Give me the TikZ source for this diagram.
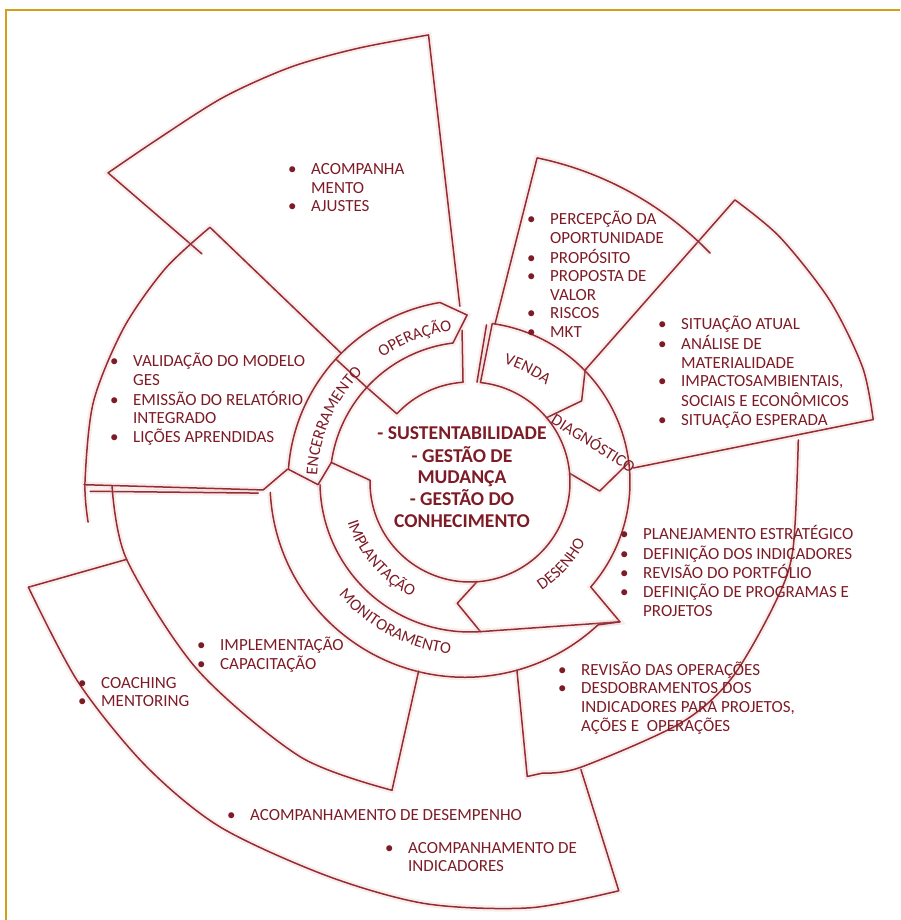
\documentclass[tikz,border=0pt]{standalone}
\usepackage{fontspec}
\setmainfont{Carlito}
\usetikzlibrary{decorations.text}

\definecolor{inkred}{RGB}{125,28,38}
\definecolor{penred}{RGB}{150,44,50}
\definecolor{blush}{RGB}{215,165,165}
\definecolor{framegold}{RGB}{212,160,23}

\newcommand{\bu}{\makebox[23pt][l]{•}}
\newcommand{\nb}{\hspace*{23pt}}
\newcommand{\ringfont}{\fontsize{16.5}{16.5}\selectfont}

\begin{document}
\begin{tikzpicture}[x=1pt, y=1pt]

    \tikzset{%
    sketch/.style={
        draw=penred,
        line width=1.5pt,
        line join=round,
        line cap=round,
        preaction={draw=blush, line width=6pt, opacity=0.2}
        },
    item list/.style={
        anchor=base west,
        inner sep=0pt,
        text=inkred,
        font=\fontsize{17}{18.5}\selectfont
        },
    core text/.style={
        anchor=base,
        inner sep=0pt,
        text=inkred,
        font=\bfseries\fontsize{19.6}{21.25}\selectfont
        },
    ring label/.style={
        decorate,
        decoration={text along path, text align=center, text={#1}}
        },
    }

    % Picture size and frame
    \useasboundingbox (-470,-438) rectangle (430,482);
    \draw [framegold, line width=2pt] (-464,-438) -- (-464,472) -- (430,472);

    % Inner ring: stub under OPERACAO, VENDA, DIAGNOSTICO, DESENHO, IMPLANTACAO
    \draw [sketch] (137.5:140) -- (137:100) arc[start angle=137, end angle=94, radius=100] -- (93:152);
    \draw [sketch] (84:100) -- (82:160) arc[start angle=82, end angle=44, radius=160]
        -- (36:138) -- (40:100) arc[start angle=40, end angle=84, radius=100] -- cycle;
    \draw [sketch] (86:100) -- (84:158);
    \draw [sketch] (44:160) arc[start angle=44, end angle=7, radius=160]
        -- (-4:130) -- (5:100) arc[start angle=5, end angle=40, radius=100];
    \draw [sketch] (5:100) arc[start angle=5, end angle=-86, radius=100]
        -- (-96:122) -- (-86:150) -- (-43:205) -- (-41:160) arc[start angle=-41, end angle=7, radius=160];
    \draw [sketch] (179:100) arc[start angle=179, end angle=274, radius=100];
    \draw [sketch] (181:150) arc[start angle=181, end angle=274, radius=150];

    % Outer ring: ENCERRAMENTO, OPERACAO, MONITORAMENTO
    \draw [sketch] (137.5:182) arc[start angle=137.5, end angle=176, radius=182]
        -- (181:152) -- (172:140) arc[start angle=172, end angle=137.5, radius=140] -- cycle;
    \draw [sketch] (172:140) -- (179:100);
    \draw [sketch] (137.5:182) arc[start angle=137.5, end angle=99.5, radius=182]
        -- (91:167) -- (97:140) arc[start angle=97, end angle=137.5, radius=140];
    \draw [sketch] (183:200) arc[start angle=183, end angle=313, radius=195] -- (-43:205);

    % Outer sectors
    \draw [sketch] (93.3:176) -- plot[smooth] coordinates {(95.3:449) (104.6:448) (113.4:452) (122.7:457) (132.5:464) (139.5:476)} -- (139.6:352);
    \draw [sketch] (135:182) -- plot[smooth] coordinates {(135.6:364) (145:372) (156:379) (168:385) (180:385) (186:384)};
    \draw [sketch] (180.4:386) -- (182.2:207) -- (176:183);
    \draw [sketch] (181.4:380) -- (183:212);
    \draw [sketch] plot[smooth] coordinates {(180.6:358) (192.7:352) (214.5:331) (238.3:323) (255.8:318)} -- (254.8:196);
    \draw [sketch] (193.4:454) -- (192.7:352);
    \draw [sketch] plot[smooth] coordinates {(193.4:454) (207:440) (221:431) (234:426) (250:419) (264:424) (278:430) (290:435)} -- (291.1:308);
    \draw [sketch] (284:194) -- (281:300) -- plot[smooth] coordinates {(284:300) (291.1:306) (311:320) (323:327) (338:328) (348:330) (367.3:331)};
    \draw [sketch] (4.9:164) -- (8.8:408);
    \draw [sketch] (44.2:160) -- plot[smooth] coordinates {(46.8:387) (38.3:395) (26.8:403) (16.3:409) (8.8:408)};
    \draw [sketch] (81:160) -- (78.3:331) arc[start angle=78.3, end angle=44, radius=335];

    % Ring labels
    \path [ring label={|\ringfont\color{inkred}|OPERAÇÃO}] (131:152) arc[start angle=131, end angle=91, radius=152];
    \path [ring label={|\ringfont\color{inkred}|ENCERRAMENTO}] (186:153) arc[start angle=186, end angle=126, radius=153];
    \path [ring label={|\ringfont\color{inkred}|VENDA}] (83:123) arc[start angle=83, end angle=43, radius=123];
    \path [ring label={|\ringfont\color{inkred}|DESENHO}] (-67:130) arc[start angle=-67, end angle=-17, radius=130];
    \path [ring label={|\ringfont\color{inkred}|IMPLANTAÇÃO}] (190.7:129) arc[start angle=190.7, end angle=250.7, radius=129];
    \path [ring label={|\ringfont\color{inkred}|MONITORAMENTO}] (212:173) arc[start angle=212, end angle=272, radius=173];
    \node [text=inkred, font=\ringfont, rotate=-32, inner sep=0pt] (diag) at (124,40) {DIAGNÓSTICO};

    % Centre text
    \node [core text] (core) at (-8,42) {\begin{tabular}[t]{@{}c@{}}- SUSTENTABILIDADE\\- GESTÃO DE\\MUDANÇA\\- GESTÃO DO\\CONHECIMENTO\end{tabular}};

    % Bullet lists of the sectors
    \node [item list] (operacao) at (-182,307) {\begin{tabular}[t]{@{}l@{}}\bu ACOMPANHA\\\nb MENTO\\\bu AJUSTES\end{tabular}};
    \node [item list] (venda) at (57,257) {\begin{tabular}[t]{@{}l@{}}\bu PERCEPÇÃO DA\\\nb OPORTUNIDADE\\\bu PROPÓSITO\\\bu PROPOSTA DE\\\nb VALOR\\\bu RISCOS\\\bu MKT\end{tabular}};
    \node [item list] (diagnostico) at (188,152) {\begin{tabular}[t]{@{}l@{}}\bu SITUAÇÃO ATUAL\\\bu ANÁLISE DE\\\nb MATERIALIDADE\\\bu IMPACTOSAMBIENTAIS,\\\nb SOCIAIS E ECONÔMICOS\\\bu SITUAÇÃO ESPERADA\end{tabular}};
    \node [item list] (encerramento) at (-360,115) {\begin{tabular}[t]{@{}l@{}}\bu VALIDAÇÃO DO MODELO\\\nb GES\\\bu EMISSÃO DO RELATÓRIO\\\nb INTEGRADO\\\bu LIÇÕES APRENDIDAS\end{tabular}};
    \node [item list] (desenho) at (150,-58) {\begin{tabular}[t]{@{}l@{}}\bu PLANEJAMENTO ESTRATÉGICO\\\bu DEFINIÇÃO DOS INDICADORES\\\bu REVISÃO DO PORTFÓLIO\\\bu DEFINIÇÃO DE PROGRAMAS E\\\nb PROJETOS\end{tabular}};
    \node [item list] (revisao) at (88,-193) {\begin{tabular}[t]{@{}l@{}}\bu REVISÃO DAS OPERAÇÕES\\\bu DESDOBRAMENTOS DOS\\\nb INDICADORES PARA PROJETOS,\\\nb AÇÕES E~ OPERAÇÕES\end{tabular}};
    \node [item list] (implantacao) at (-273,-168) {\begin{tabular}[t]{@{}l@{}}\bu IMPLEMENTAÇÃO\\\bu CAPACITAÇÃO\end{tabular}};
    \node [item list] (coaching) at (-392,-206) {\begin{tabular}[t]{@{}l@{}}\bu COACHING\\\bu MENTORING\end{tabular}};
    \node [item list] (desempenho) at (-243,-338) {\bu ACOMPANHAMENTO DE DESEMPENHO};
    \node [item list] (indicadores) at (-85,-371) {\begin{tabular}[t]{@{}l@{}}\bu ACOMPANHAMENTO DE\\\nb INDICADORES\end{tabular}};

\end{tikzpicture}
\end{document}
